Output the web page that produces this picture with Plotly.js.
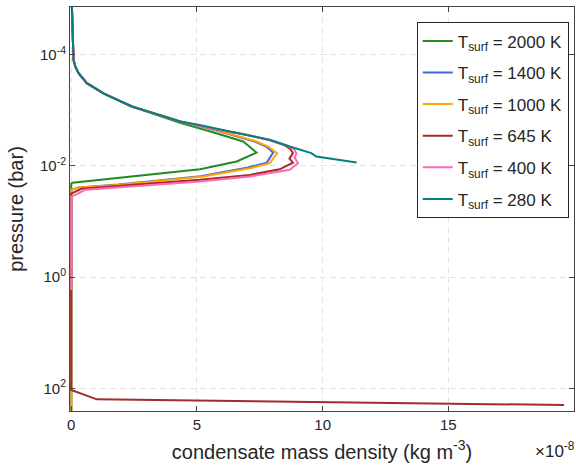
<!DOCTYPE html>
<html>
<head>
<meta charset="utf-8">
<script src="https://cdn.plot.ly/plotly-3.0.1.min.js"></script>
<style>html,body{margin:0;padding:0;background:#fff;}#chart{width:576px;height:467px;}</style>
</head>
<body>
<div id="chart"></div>
<script>
// condensate mass density in units of 1e-8 kg m^-3, pressure in bar
const names = ["T<sub>surf</sub> = 2000 K","T<sub>surf</sub> = 1400 K","T<sub>surf</sub> = 1000 K","T<sub>surf</sub> = 645 K","T<sub>surf</sub> = 400 K","T<sub>surf</sub> = 280 K"];
const colors = ["#228B22","#4169E1","#FFA500","#A52A2A","#FF69B4","#008080"];

const rho2000 = [0.02,0.07,0.09,0.16,0.29,0.62,1.30,2.41,3.70,4.30,5.60,6.84,7.37,6.58,5.12,1.94,0.05,0,0];
const p2000   = [1.12e-5,9.33e-5,1.23e-4,1.62e-4,2.14e-4,3.24e-4,5.01e-4,8.51e-4,1.32e-3,1.66e-3,2.45e-3,3.63e-3,5.75e-3,8.32e-3,1.15e-2,1.62e-2,2.0e-2,2.09e-2,316];

const rho1400 = [0.02,0.07,0.09,0.16,0.29,0.62,1.30,2.41,3.73,4.33,5.60,7.30,7.75,8.03,7.78,6.98,5.15,1.88,0.28,0,0];
const p1400   = [1.12e-5,9.33e-5,1.23e-4,1.62e-4,2.14e-4,3.24e-4,5.01e-4,8.51e-4,1.29e-3,1.58e-3,2.19e-3,3.63e-3,4.47e-3,5.75e-3,8.71e-3,1.08e-2,1.53e-2,2.16e-2,2.45e-2,2.69e-2,316];

const rho1000 = [0.02,0.07,0.09,0.16,0.29,0.62,1.30,2.41,3.73,4.33,5.65,7.37,7.83,8.19,7.90,7.10,5.25,1.94,0.30,0,0];
const p1000   = [1.12e-5,9.33e-5,1.23e-4,1.62e-4,2.14e-4,3.24e-4,5.01e-4,8.51e-4,1.29e-3,1.58e-3,2.19e-3,3.63e-3,4.47e-3,5.89e-3,8.91e-3,1.10e-2,1.55e-2,2.19e-2,2.45e-2,2.69e-2,316];

const rho645 = [0.02,0.07,0.09,0.16,0.29,0.62,1.30,2.41,3.73,4.33,5.65,6.97,7.90,8.50,8.72,8.82,8.68,8.82,8.29,7.10,5.12,1.94,0.40,0,0,1.02,19.6];
const p645   = [1.12e-5,9.33e-5,1.23e-4,1.62e-4,2.14e-4,3.24e-4,5.01e-4,8.51e-4,1.29e-3,1.58e-3,2.14e-3,2.75e-3,3.47e-3,4.27e-3,5.01e-3,5.89e-3,7.41e-3,8.71e-3,1.15e-2,1.45e-2,1.78e-2,2.29e-2,2.57e-2,3.16e-2,107,158,200];

const rho400 = [0.02,0.07,0.09,0.16,0.29,0.62,1.30,2.41,3.73,4.33,5.65,6.97,7.90,8.55,8.85,8.96,8.89,9.02,8.69,7.10,5.12,1.94,0.56,0.16,0,0];
const p400   = [1.12e-5,9.33e-5,1.23e-4,1.62e-4,2.14e-4,3.24e-4,5.01e-4,8.51e-4,1.29e-3,1.58e-3,2.14e-3,2.75e-3,3.47e-3,4.27e-3,4.90e-3,5.89e-3,7.08e-3,8.91e-3,1.17e-2,1.55e-2,1.91e-2,2.40e-2,2.69e-2,3.31e-2,3.55e-2,1.70];

const rho280 = [0.02,0.07,0.09,0.16,0.29,0.62,1.30,2.41,3.73,4.33,5.05,5.98,6.97,7.90,8.69,9.42,9.55,9.75,11.35];
const p280   = [1.12e-5,9.33e-5,1.23e-4,1.62e-4,2.14e-4,3.24e-4,5.01e-4,8.51e-4,1.29e-3,1.58e-3,1.82e-3,2.24e-3,2.75e-3,3.39e-3,4.47e-3,5.50e-3,5.89e-3,6.76e-3,8.71e-3];

const xTicks = [0,5,10,15];
const yTickVals = [1e-4,1e-2,1,1e2];
const yTickText = ["10<sup>-4</sup>","10<sup>-2</sup>","10<sup>0</sup>","10<sup>2</sup>"];

const xs = [rho2000,rho1400,rho1000,rho645,rho400,rho280];
const ps = [p2000,p1400,p1000,p645,p400,p280];

const traces = xs.map((x,i)=>({
  x: x, y: ps[i], type:'scatter', mode:'lines', name: names[i],
  legendgroup: 'g'+i,
  line:{color:colors[i], width:2}
}));

const font = {family:"Liberation Sans, Arial, sans-serif", color:"#262626"};
const layout = {
  width:576, height:467,
  margin:{l:70, r:2, t:7, b:56, pad:0},
  paper_bgcolor:'#fff', plot_bgcolor:'#fff',
  font: Object.assign({size:15}, font),
  showlegend:true,
  xaxis:{
    range:[-0.05,20], tickvals:xTicks, ticktext:xTicks.map(String),
    ticks:'inside', ticklen:5, tickcolor:'#444', showline:true, linecolor:'#444', linewidth:1, mirror:'ticks',
    showgrid:true, gridcolor:'#e3e3e3', griddash:'6px,4px', zeroline:false,
    tickfont:{size:15},
    title:{text:"condensate mass density (kg m<sup>-3</sup>)", font:{size:20}, standoff:12}
  },
  yaxis:{
    type:'log', range:[2.408,-4.859], tickvals:yTickVals, ticktext:yTickText,
    ticks:'inside', ticklen:5, tickcolor:'#444', showline:true, linecolor:'#444', linewidth:1, mirror:'ticks',
    showgrid:true, gridcolor:'#e3e3e3', griddash:'6px,4px', zeroline:false,
    tickfont:{size:15},
    title:{text:"pressure (bar)", font:{size:20}, standoff:10}
  },
  legend:{
    x:0.688, y:0.962, xanchor:'left', yanchor:'top',
    bgcolor:'#fff', bordercolor:'#262626', borderwidth:1,
    font:{size:17}, traceorder:'grouped', tracegroupgap:6.5
  },
  annotations:[{
    text:"×10<sup>-8</sup>", xref:'paper', yref:'paper', x:1.006, y:-0.097,
    xanchor:'right', yanchor:'middle', showarrow:false, font:{size:17}
  }]
};
Plotly.newPlot('chart', traces, layout, {displayModeBar:false, staticPlot:true});
</script>
</body>
</html>
